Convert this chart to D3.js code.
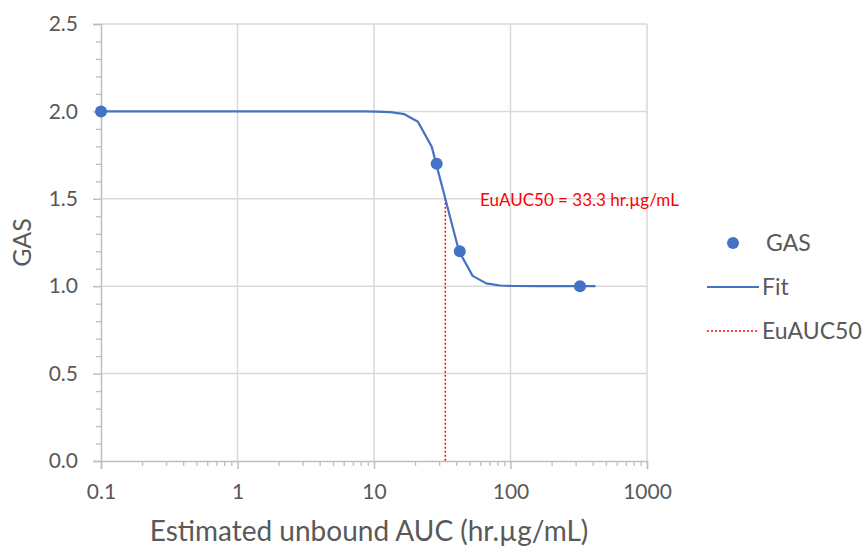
<!DOCTYPE html>
<html>
<head>
<meta charset="utf-8">
<script src="https://cdn.jsdelivr.net/npm/d3@7"></script>
<style>
  body { margin: 0; background: #fff; }
  text { font-family: Lato, "Open Sans", sans-serif; }
</style>
</head>
<body>
<div class="chart"></div>
<script>
// observed GAS values
const gasX = [0.1, 28.8, 42.5, 323];
const gasY = [2.0, 1.7, 1.2, 1.0];

// fitted curve
const fitX = [0.1, 1, 5.28, 8.36, 10.5, 13.2, 16.7, 21.0, 26.5, 33.3, 41.9, 52.8, 66.4, 83.6, 105, 167, 265, 419];
const fitY = [2.0, 2.0, 2.0, 2.0, 1.999, 1.996, 1.984, 1.941, 1.797, 1.5, 1.201, 1.059, 1.016, 1.004, 1.001, 1.0, 1.0, 1.0];

const euAUC50 = 33.3;
const euAUC50Y = 1.5;

const xTicks = [0.1, 1, 10, 100, 1000];
const yTicks = [0, 0.5, 1.0, 1.5, 2.0, 2.5];
const legendLabels = ['GAS', 'Fit', 'EuAUC50'];

const config = {
  width: 864,
  height: 548,
  left: 101,
  right: 647,
  top: 24,
  bottom: 461
};

const blue = '#4472c4';
const red = '#ff0000';
const grid = '#d9d9d9';
const axisColor = '#bfbfbf';
const textColor = '#595959';

const svg = d3.select('.chart')
  .append('svg')
  .attr('width', config.width)
  .attr('height', config.height);

const x = d3.scaleLog()
  .domain([0.1, 1000])
  .range([config.left, config.right]);

const y = d3.scaleLinear()
  .domain([0, 2.5])
  .range([config.bottom, config.top]);

// gridlines
svg.append('g')
  .selectAll('line')
  .data(yTicks.filter(d => d > 0))
  .enter()
  .append('line')
  .attr('x1', config.left)
  .attr('x2', config.right)
  .attr('y1', d => y(d))
  .attr('y2', d => y(d))
  .attr('stroke', grid)
  .attr('stroke-width', 1.5);

svg.append('g')
  .selectAll('line')
  .data(xTicks.slice(1))
  .enter()
  .append('line')
  .attr('x1', d => x(d))
  .attr('x2', d => x(d))
  .attr('y1', config.top)
  .attr('y2', config.bottom)
  .attr('stroke', grid)
  .attr('stroke-width', 1.5);

// minor ticks
const xMinor = x.ticks().filter(d => !xTicks.includes(d));
svg.append('g')
  .attr('transform', `translate(0,${config.bottom})`)
  .call(d3.axisBottom(x).tickValues(xMinor).tickSize(5).tickFormat(''))
  .call(g => g.select('.domain').remove())
  .call(g => g.selectAll('line').attr('stroke', axisColor).attr('stroke-width', 1.3));

const yMinor = d3.range(0, 26).map(d => d / 10).filter(d => !yTicks.includes(d));
svg.append('g')
  .attr('transform', `translate(${config.left},0)`)
  .call(d3.axisLeft(y).tickValues(yMinor).tickSize(5).tickFormat(''))
  .call(g => g.select('.domain').remove())
  .call(g => g.selectAll('line').attr('stroke', axisColor).attr('stroke-width', 1.3));

// axes
const xAxis = svg.append('g')
  .attr('transform', `translate(0,${config.bottom})`)
  .call(d3.axisBottom(x).tickValues(xTicks).tickSize(8).tickPadding(15).tickFormat(d3.format('~g')));

const yAxis = svg.append('g')
  .attr('transform', `translate(${config.left},0)`)
  .call(d3.axisLeft(y).tickValues(yTicks).tickSize(8).tickPadding(15).tickFormat(d3.format('.1f')));

[xAxis, yAxis].forEach(a => {
  a.select('.domain').attr('stroke', axisColor).attr('stroke-width', 1.5);
  a.selectAll('line').attr('stroke', axisColor).attr('stroke-width', 1.5);
  a.selectAll('text')
    .attr('fill', textColor)
    .attr('font-size', 21)
    .style('font-family', 'Lato, sans-serif');
});

// EuAUC50 drop line
svg.append('line')
  .attr('x1', x(euAUC50))
  .attr('x2', x(euAUC50))
  .attr('y1', y(euAUC50Y))
  .attr('y2', y(0))
  .attr('stroke', red)
  .attr('stroke-width', 1.5)
  .attr('stroke-dasharray', '2,2');

// fit line
const line = d3.line()
  .x((d, i) => x(fitX[i]))
  .y(d => y(d));

svg.append('path')
  .datum(fitY)
  .attr('d', line)
  .attr('fill', 'none')
  .attr('stroke', blue)
  .attr('stroke-width', 2.2)
  .attr('stroke-linejoin', 'round');

// points
svg.append('g')
  .selectAll('circle')
  .data(gasY)
  .enter()
  .append('circle')
  .attr('cx', (d, i) => x(gasX[i]))
  .attr('cy', d => y(d))
  .attr('r', 6)
  .attr('fill', blue);

// annotation
svg.append('text')
  .attr('x', 480)
  .attr('y', y(euAUC50Y) + 7)
  .attr('fill', red)
  .attr('font-size', 17)
  .text(`EuAUC50 = ${euAUC50} hr.\u00b5g/mL`);

// axis titles
svg.append('text')
  .attr('x', (config.left + config.right) / 2 - 5)
  .attr('y', 541)
  .attr('text-anchor', 'middle')
  .attr('fill', textColor)
  .attr('font-size', 28)
  .text('Estimated unbound AUC (hr.\u00b5g/mL)');

svg.append('text')
  .attr('transform', `translate(31,${(config.top + config.bottom) / 2}) rotate(-90)`)
  .attr('text-anchor', 'middle')
  .attr('fill', textColor)
  .attr('font-size', 25)
  .text('GAS');

// legend
const legend = svg.append('g')
  .selectAll('g')
  .data(legendLabels)
  .enter()
  .append('g')
  .attr('transform', (d, i) => `translate(707, ${243 + i * 44})`);

legend.each(function (d, i) {
  const $g = d3.select(this);
  if (i === 0) {
    $g.append('circle').attr('cx', 26).attr('cy', 0).attr('r', 6).attr('fill', blue);
  } else {
    $g.append('line')
      .attr('x1', 0).attr('x2', 52)
      .attr('y1', 0).attr('y2', 0)
      .attr('stroke', i === 1 ? blue : red)
      .attr('stroke-width', i === 1 ? 2.2 : 1.5)
      .attr('stroke-dasharray', i === 1 ? null : '2,2');
  }
  $g.append('text')
    .attr('x', i === 0 ? 59 : 55)
    .attr('y', 8)
    .attr('fill', textColor)
    .attr('font-size', 23)
    .text(d);
});
</script>
</body>
</html>
